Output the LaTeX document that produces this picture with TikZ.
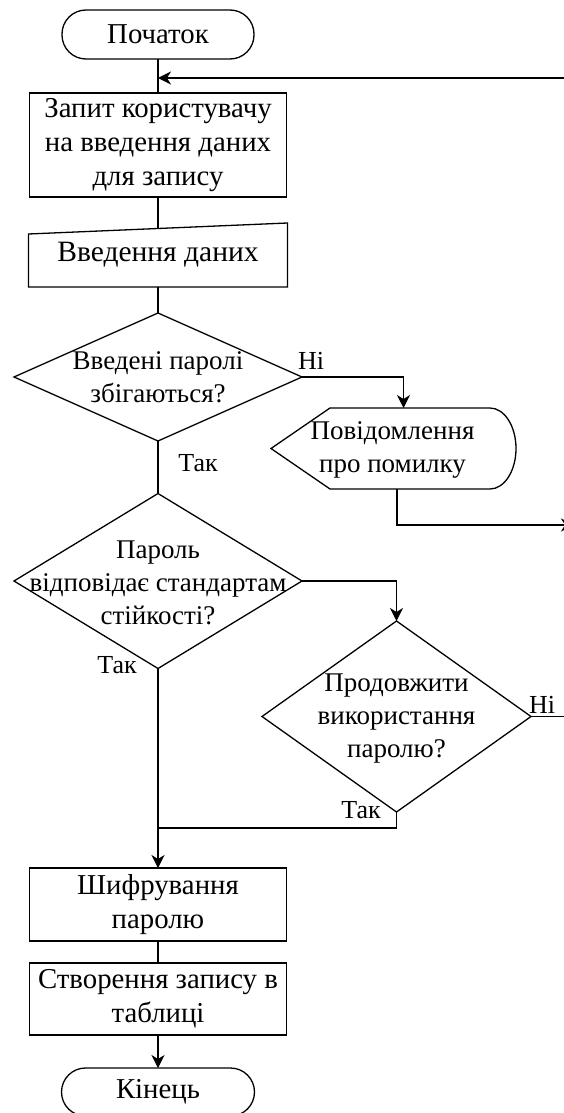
\documentclass[tikz,border=0pt]{standalone}
\usepackage{fontspec}
\setmainfont{Liberation Serif}
\usetikzlibrary{arrows.meta,shapes.geometric,calc}
\begin{document}
\begin{tikzpicture}[x=1pt,y=-1pt,
  line width=1.3pt,
  every node/.style={inner sep=0pt,outer sep=0pt},
  txt/.style={font=\fontsize{28.8}{34}\selectfont,align=center},
  dtxt/.style={font=\fontsize{27}{33}\selectfont,align=center},
  lbl/.style={font=\fontsize{26}{30}\selectfont},
  term/.style={draw,rounded corners=24pt,txt},
  proc/.style={draw,rectangle,txt},
  dia/.style={draw,diamond},
  arr/.style={-{Stealth[length=13pt,width=13pt,inset=4pt]}}
]
\useasboundingbox (0,0) rectangle (563,1113);

% nodes
\node[term,minimum width=192pt,minimum height=49pt] (start) at (158,34.5) {Початок};
\node[proc,minimum width=257pt,minimum height=104pt] (box1) at (158,145) {Запит користувачу\\на введення даних\\для запису};
\node[txt,font=\fontsize{29.5}{34}\selectfont,minimum width=259pt,minimum height=64pt] (input) at (158,255) {Введення даних};
\draw (input.south west) -- (input.south east) -- (input.north east) -- ($(input.north west)+(0,11)$) -- cycle;
\coordinate (intop) at ($(input.north)+(0,5.5)$);

\node[dia,minimum width=288pt,minimum height=128pt] (d1) at (158,377) {};
\node[dtxt] (d1t) at (d1) {Введені паролі\\збігаються?};

\node[minimum width=245pt,minimum height=81pt] (disp) at (393.5,448.5) {};
\draw (disp.west) -- (330,408) -- (490,408) arc[start angle=90,end angle=-90,x radius=26pt,y radius=40.5pt] -- (330,489) -- cycle;
\node[dtxt] (dispt) at (392.5,450) {Повідомлення\\про помилку};
\coordinate (dispin) at (403.5,408);
\coordinate (dispout) at (397,489);
\coordinate (rout) at (574,525);

\node[dia,minimum width=288pt,minimum height=175pt] (d2) at (158,581) {};
\node[dtxt] (d2t) at (158,583) {Пароль\\відповідає стандартам\\стійкості?};

\node[dia,minimum width=269pt,minimum height=191pt] (d3) at (396.5,716.5) {};
\node[dtxt] (d3t) at (396.5,719) {Продовжити\\використання\\паролю?};
\coordinate (rno) at (570,716.5);
\coordinate (jm) at (158,828);

\node[proc,minimum width=257pt,minimum height=73pt] (box3) at (158,904.5) {Шифрування\\паролю};
\node[proc,minimum width=257pt,minimum height=72pt] (box4) at (158,999) {Створення запису в\\таблиці};
\node[term,minimum width=193pt,minimum height=48pt] (end) at (158,1092) {Кінець};

\coordinate (rin) at (570,78);
\coordinate (j0) at (158,78);

% connectors
\draw (start.south) -- (box1.north);
\draw[arr] (rin) -- (j0);
\draw (box1.south) -- (intop);
\draw (input.south) -- (d1.north);
\draw[arr] (d1.east) -| (dispin);
\draw[arr] (dispout) |- (rout);
\draw (d1.south) -- (d2.north);
\draw[arr] (d2.east) -| (d3.north);
\draw (d3.east) -- (rno);
\draw (d3.south) |- (jm);
\draw[arr] (d2.south) -- (box3.north);
\draw (box3.south) -- (box4.north);
\draw[arr] (box4.south) -- (end.north);

% labels
\node[lbl] (l1) at (311,361) {Ні};
\node[lbl] (l2) at (198,463) {Так};
\node[lbl] (l3) at (117,665) {Так};
\node[lbl] (l4) at (542,705) {Ні};
\node[lbl] (l5) at (361,810) {Так};
\end{tikzpicture}
\end{document}
